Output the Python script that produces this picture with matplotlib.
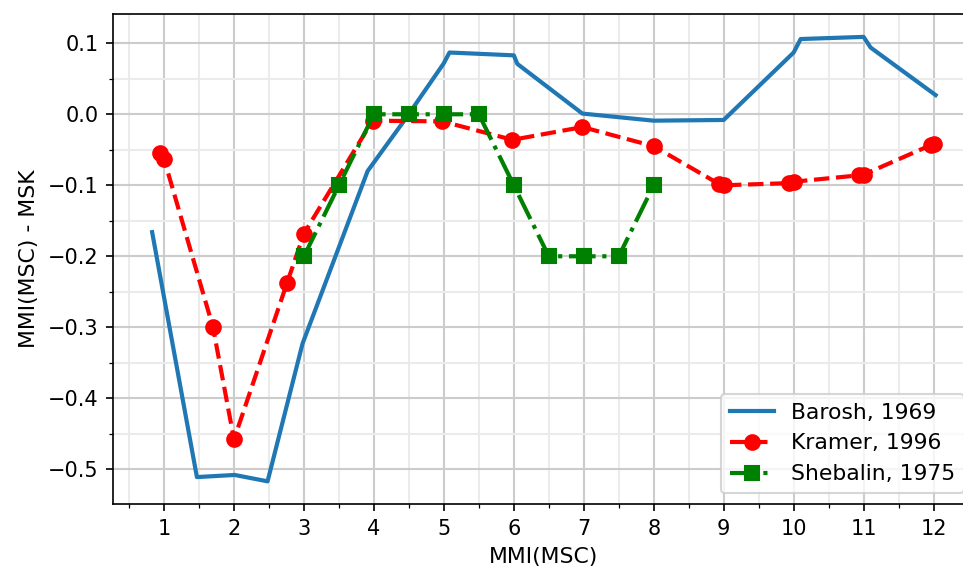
import matplotlib
matplotlib.use("Agg")
import matplotlib.pyplot as plt
from matplotlib.ticker import MultipleLocator

# Barosh, 1969
barosh_x = [0.83, 1.47, 2.01, 2.48, 2.98, 3.91, 4.44, 5.0, 5.08, 6.0, 6.05, 6.98, 8.0, 9.0, 10.0, 10.1, 11.0, 11.1, 12.03]
barosh_y = [-0.166, -0.511, -0.508, -0.517, -0.323, -0.080, -0.008, 0.072, 0.087, 0.083, 0.071, 0.001, -0.009, -0.008, 0.087, 0.106, 0.109, 0.094, 0.027]

# Kramer, 1996
kramer_x = [0.94, 1.0, 1.70, 2.0, 2.76, 3.0, 3.98, 4.98, 5.98, 6.98, 8.0, 8.93, 9.0, 9.93, 10.0, 10.93, 11.0, 11.97, 12.0]
kramer_y = [-0.055, -0.063, -0.300, -0.458, -0.237, -0.168, -0.009, -0.010, -0.036, -0.018, -0.045, -0.098, -0.100, -0.097, -0.095, -0.086, -0.085, -0.043, -0.042]

# Shebalin, 1975
shebalin_x = [3.0, 3.5, 4.0, 4.5, 5.0, 5.5, 6.0, 6.5, 7.0, 7.5, 8.0]
shebalin_y = [-0.2, -0.1, 0.0, 0.0, 0.0, 0.0, -0.1, -0.2, -0.2, -0.2, -0.1]

fig = plt.figure(figsize=(6.42, 3.78), dpi=150)
ax = fig.add_axes([0.1173, 0.111, 0.895, 0.864])

ax.plot(barosh_x, barosh_y, color="tab:blue", lw=2, label="Barosh, 1969")
ax.plot(kramer_x, kramer_y, "r--o", lw=2, markersize=7, label="Kramer, 1996")
ax.plot(shebalin_x, shebalin_y, "g-.s", lw=2, markersize=7, label="Shebalin, 1975")

ax.set_xlim(0.27, 12.59)
ax.set_ylim(-0.549, 0.141)
ax.xaxis.set_major_locator(MultipleLocator(1))
ax.xaxis.set_minor_locator(MultipleLocator(0.5))
ax.yaxis.set_major_locator(MultipleLocator(0.1))
ax.yaxis.set_minor_locator(MultipleLocator(0.05))
ax.grid(which="major", color="#cccccc", lw=1)
ax.grid(which="minor", color="#ebebeb", lw=1)

ax.set_xlabel("MMI(MSC)", fontsize=10.5)
ax.set_ylabel("MMI(MSC) - MSK", fontsize=10.5)
ax.legend(loc="lower right", fontsize=10.5)

fig.savefig("out.png", dpi=150)
